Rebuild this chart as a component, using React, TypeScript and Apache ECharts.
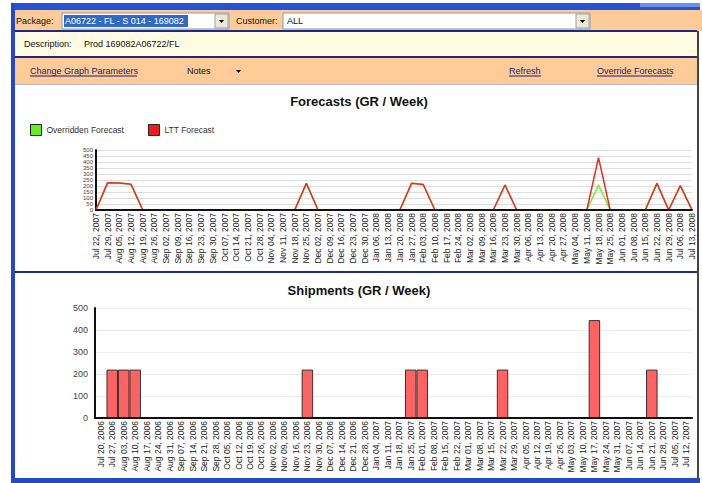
import React, { useEffect, useRef } from "react";
import * as echarts from "echarts";

const forecastWeeks = [
  "Jul 22, 2007", "Jul 29, 2007", "Aug 05, 2007", "Aug 12, 2007", "Aug 19, 2007", "Aug 26, 2007",
  "Sep 02, 2007", "Sep 09, 2007", "Sep 16, 2007", "Sep 23, 2007", "Sep 30, 2007", "Oct 07, 2007",
  "Oct 14, 2007", "Oct 21, 2007", "Oct 28, 2007", "Nov 04, 2007", "Nov 11, 2007", "Nov 18, 2007",
  "Nov 25, 2007", "Dec 02, 2007", "Dec 09, 2007", "Dec 16, 2007", "Dec 23, 2007", "Dec 30, 2007",
  "Jan 06, 2008", "Jan 13, 2008", "Jan 20, 2008", "Jan 27, 2008", "Feb 03, 2008", "Feb 10, 2008",
  "Feb 17, 2008", "Feb 24, 2008", "Mar 02, 2008", "Mar 09, 2008", "Mar 16, 2008", "Mar 23, 2008",
  "Mar 30, 2008", "Apr 06, 2008", "Apr 13, 2008", "Apr 20, 2008", "Apr 27, 2008", "May 04, 2008",
  "May 11, 2008", "May 18, 2008", "May 25, 2008", "Jun 01, 2008", "Jun 08, 2008", "Jun 15, 2008",
  "Jun 22, 2008", "Jun 29, 2008", "Jul 06, 2008", "Jul 13, 2008",
];

const lttForecast = [
  0, 228, 225, 214, 0, 0, 0, 0, 0, 0, 0, 0, 0, 0, 0, 0, 0, 0,
  222, 0, 0, 0, 0, 0, 0, 0, 0, 222, 212, 0, 0, 0, 0, 0, 0, 208,
  0, 0, 0, 0, 0, 0, 0, 436, 0, 0, 0, 0, 222, 0, 203, 0,
];

const overriddenForecast = [
  0, 228, 225, 214, 0, 0, 0, 0, 0, 0, 0, 0, 0, 0, 0, 0, 0, 0,
  222, 0, 0, 0, 0, 0, 0, 0, 0, 222, 212, 0, 0, 0, 0, 0, 0, 208,
  0, 0, 0, 0, 0, 0, 0, 208, 0, 0, 0, 0, 222, 0, 203, 0,
];

const shipmentWeeks = [
  "Jul 20, 2006", "Jul 27, 2006", "Aug 03, 2006", "Aug 10, 2006", "Aug 17, 2006", "Aug 24, 2006",
  "Aug 31, 2006", "Sep 07, 2006", "Sep 14, 2006", "Sep 21, 2006", "Sep 28, 2006", "Oct 05, 2006",
  "Oct 12, 2006", "Oct 19, 2006", "Oct 26, 2006", "Nov 02, 2006", "Nov 09, 2006", "Nov 16, 2006",
  "Nov 23, 2006", "Nov 30, 2006", "Dec 07, 2006", "Dec 14, 2006", "Dec 21, 2006", "Dec 28, 2006",
  "Jan 04, 2007", "Jan 11, 2007", "Jan 18, 2007", "Jan 25, 2007", "Feb 01, 2007", "Feb 08, 2007",
  "Feb 15, 2007", "Feb 22, 2007", "Mar 01, 2007", "Mar 08, 2007", "Mar 15, 2007", "Mar 22, 2007",
  "Mar 29, 2007", "Apr 05, 2007", "Apr 12, 2007", "Apr 19, 2007", "Apr 26, 2007", "May 03, 2007",
  "May 10, 2007", "May 17, 2007", "May 24, 2007", "May 31, 2007", "Jun 07, 2007", "Jun 14, 2007",
  "Jun 21, 2007", "Jun 28, 2007", "Jul 05, 2007", "Jul 12, 2007",
];

const shipments = [
  0, 220, 220, 220, 0, 0, 0, 0, 0, 0, 0, 0, 0, 0, 0, 0, 0, 0,
  220, 0, 0, 0, 0, 0, 0, 0, 0, 220, 220, 0, 0, 0, 0, 0, 0, 220,
  0, 0, 0, 0, 0, 0, 0, 445, 0, 0, 0, 0, 220, 0, 0, 0,
];

const legendNames = ["Overridden Forecast", "LTT Forecast"];

const FONT = "Liberation Sans";

export default function App() {
  const ref = useRef<HTMLDivElement>(null);

  useEffect(() => {
    const chart = echarts.init(ref.current!, null, { renderer: "svg" });

    const uiText = (text: string, x: number, y: number, opts: any = {}) => ({
      type: "text",
      x,
      y,
      z: 20,
      style: {
        text,
        fill: opts.fill || "#111",
        font: `${opts.weight || "normal"} ${opts.size || 9}px "${FONT}"`,
        align: opts.align || "left",
        verticalAlign: "middle",
      },
    });
    const rect = (x: number, y: number, w: number, h: number, fill: string, stroke?: string, z = 10) => ({
      type: "rect",
      z,
      shape: { x, y, width: w, height: h },
      style: { fill, stroke: stroke || null, lineWidth: stroke ? 1 : 0 },
    });
    const uline = (x1: number, x2: number, y: number, color: string) => ({
      type: "line",
      z: 20,
      shape: { x1, y1: y, x2, y2: y },
      style: { stroke: color, lineWidth: 1 },
    });
    const arrow = (x: number, y: number) => ({
      type: "polygon",
      z: 21,
      shape: { points: [[x, y], [x + 5, y], [x + 2.5, y + 3]] },
      style: { fill: "#000" },
    });

    const graphic: any[] = [
      // window frame
      rect(12, 3, 688, 7, "#2553d6"),
      rect(640, 3, 60, 4, "#6f8fe8"),
      // package row
      rect(13, 10, 689, 21, "#ffcc99"),
      uiText("Package:", 16, 21),
      rect(62, 13, 167, 16, "#ffffff", "#8899aa"),
      rect(64, 15, 124, 12, "#316ac5"),
      uiText("A06722 - FL - S 014 - 169082", 65, 21, { fill: "#ffffff" }),
      rect(215, 14, 13, 14, "#ece9d8", "#a0a0a0"),
      arrow(219, 20),
      uiText("Customer:", 236, 21),
      rect(283, 13, 307, 16, "#ffffff", "#8899aa"),
      uiText("ALL", 287, 21),
      rect(576, 14, 13, 14, "#ece9d8", "#a0a0a0"),
      arrow(580, 20),
      rect(13, 30, 684, 2, "#1f2a80"),
      // description row
      rect(13, 32, 684, 24, "#fffbe3"),
      uiText("Description:", 24, 44),
      uiText("Prod 169082A06722/FL", 84, 44),
      rect(13, 56, 684, 2, "#1f2a80"),
      // links row
      rect(13, 58, 684, 26, "#ffcc99"),
      uiText("Change Graph Parameters", 30, 71, { fill: "#1a1a70" }),
      uline(30, 137, 76, "#1a1a70"),
      uiText("Notes", 187, 71),
      arrow(236, 70),
      uiText("Refresh", 509, 71, { fill: "#1a1a70" }),
      uline(509, 541, 76, "#1a1a70"),
      uiText("Override Forecasts", 597, 71, { fill: "#1a1a70" }),
      uline(597, 672, 76, "#1a1a70"),
      rect(15, 84, 682, 1, "#b8b8b8"),
      // panel divider and borders
      rect(15, 271, 682, 2, "#1f2a80"),
      rect(11, 3, 4, 480, "#2448c8"),
      rect(697, 31, 2, 452, "#444444"),
      rect(13, 478, 687, 5, "#2448c8"),
      // titles
      uiText("Forecasts (GR / Week)", 359, 101, { weight: "bold", size: 13, align: "center" }),
      uiText("Shipments (GR / Week)", 359, 290, { weight: "bold", size: 13, align: "center" }),
    ];

    const xLabel = {
      rotate: 90,
      interval: 0,
      fontSize: 8.5,
      color: "#222",
      fontFamily: FONT,
      margin: 3,
    };

    chart.setOption({
      animation: false,
      backgroundColor: "#ffffff",
      textStyle: { fontFamily: FONT },
      legend: {
        data: legendNames.map((n, i) => ({
          name: n,
          icon: "rect",
          itemStyle: {
            color: i === 0 ? "#66ee22" : "#ee1c1c",
            borderColor: "#222",
            borderWidth: 1,
          },
        })),
        left: 25,
        top: 119,
        itemWidth: 11,
        itemHeight: 11,
        itemGap: 24,
        textStyle: { fontSize: 8.5, color: "#333", fontFamily: FONT },
        selectedMode: false,
      },
      grid: [
        { left: 96, top: 150, width: 596, height: 60 },
        { left: 95, top: 308, width: 597, height: 110 },
      ],
      xAxis: [
        {
          type: "category",
          gridIndex: 0,
          data: forecastWeeks,
          boundaryGap: false,
          z: 10,
          axisLine: { lineStyle: { color: "#111", width: 2 } },
          axisTick: { show: false },
          axisLabel: xLabel,
        },
        {
          type: "category",
          gridIndex: 1,
          data: shipmentWeeks,
          boundaryGap: true,
          z: 10,
          axisLine: { lineStyle: { color: "#111", width: 2 } },
          axisTick: { show: false },
          axisLabel: xLabel,
        },
      ],
      yAxis: [
        {
          type: "value",
          gridIndex: 0,
          min: 0,
          max: 500,
          interval: 50,
          axisLine: { show: true, lineStyle: { color: "#111", width: 2 } },
          axisTick: { show: false },
          axisLabel: {
            fontSize: 6,
            lineHeight: 6,
            color: "#444",
            margin: 3,
            fontFamily: FONT,
            showMinLabel: true,
            showMaxLabel: true,
          },
          splitLine: { lineStyle: { color: "#dddddd", width: 1 } },
        },
        {
          type: "value",
          gridIndex: 1,
          min: 0,
          max: 500,
          interval: 100,
          axisLine: { show: true, lineStyle: { color: "#111", width: 2 } },
          axisTick: { show: false },
          axisLabel: { fontSize: 9, color: "#444", margin: 7, fontFamily: FONT },
          splitLine: { lineStyle: { color: "#ececec", width: 1 } },
        },
      ],
      series: [
        {
          name: "Overridden Forecast",
          type: "line",
          xAxisIndex: 0,
          yAxisIndex: 0,
          data: overriddenForecast,
          symbol: "none",
          z: 2,
          lineStyle: { color: "#77ee22", width: 1.5 },
          itemStyle: { color: "#66ee22" },
        },
        {
          name: "LTT Forecast",
          type: "line",
          xAxisIndex: 0,
          yAxisIndex: 0,
          data: lttForecast,
          symbol: "none",
          z: 3,
          lineStyle: { color: "#f02828", width: 1.5 },
          itemStyle: { color: "#ee1c1c" },
        },
        {
          name: "Shipments",
          type: "bar",
          xAxisIndex: 1,
          yAxisIndex: 1,
          data: shipments,
          barCategoryGap: "0%",
          itemStyle: { color: "#ff6262", borderColor: "#333", borderWidth: 1 },
        },
      ],
      graphic,
    });

    return () => chart.dispose();
  }, []);

  return (
    <div
      ref={ref}
      style={{ position: "absolute", left: 0, top: 0, width: 702, height: 483 }}
    />
  );
}
